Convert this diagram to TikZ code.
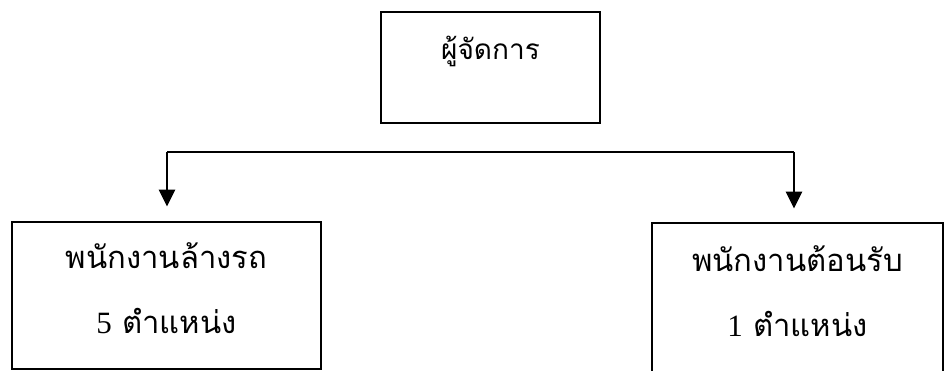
\documentclass[tikz,border=0pt]{standalone}
\usepackage{fontspec}
\newfontfamily\thaifont[Script=Thai]{Loma}
\newfontfamily\numfont{Liberation Serif}
\usetikzlibrary{positioning,arrows.meta}

\begin{document}
\begin{tikzpicture}[x=1pt, y=-1pt, line width=2.8pt, >={Triangle[length=17pt,width=16pt]},
  post/.style={draw, line width=2.8pt, inner sep=0pt, align=center,
    font=\thaifont\fontsize{31}{65}\selectfont}]
  \useasboundingbox (0,0) rectangle (944,370);
  \clip (0,0) rectangle (944,370);
  % boxes
  \node[post, font=\thaifont\fontsize{28}{30}\selectfont, minimum width=219pt, minimum height=111pt, text height=18pt, text depth=34pt] (mgr) at (490.5,67.5) {ผู้จัดการ};
  \node[post, minimum width=309pt, minimum height=147pt, text depth=14pt] (washer) at (166.5,295.5) {พนักงานล้างรถ\\{\numfont 5} ตำแหน่ง};
  \node[post, minimum width=291pt, minimum height=150pt, text depth=14pt] (host) at (797.5,298) {พนักงานต้อนรับ\\{\numfont 1} ตำแหน่ง};
  % connectors
  \coordinate (busL) at (167,152);
  \coordinate (busR) at (794,152);
  \draw (busL) -- (busR);
  \draw[->, shorten >=14pt] (busL) -- (busL |- washer.north);
  \draw[->, shorten >=13pt] (busR) -- (busR |- host.north);
\end{tikzpicture}
\end{document}
